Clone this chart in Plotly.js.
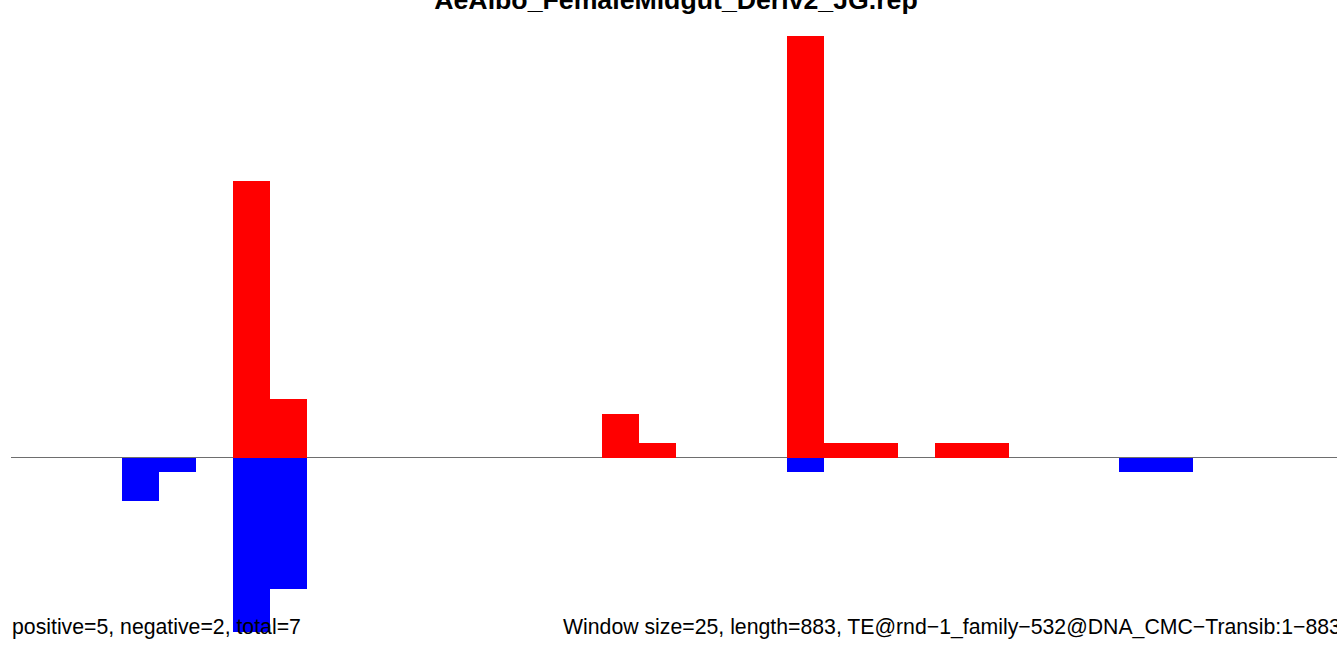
<!DOCTYPE html>
<html>
<head>
<meta charset="utf-8">
<script src="https://cdn.plot.ly/plotly-3.0.1.min.js"></script>
<style>
  html, body { margin: 0; padding: 0; background: #ffffff; }
  #chart { width: 1337px; height: 654px; }
</style>
</head>
<body>
<div id="chart"></div>
<script>
// ---- data ----
const windowSize = 25;
const seqLength = 883;
const windowIndex = [0,1,2,3,4,5,6,7,8,9,10,11,12,13,14,15,16,17,18,19,20,21,22,23,24,25,26,27,28,29,30,31,32,33,34,35];
const positiveCounts = [0,0,0,0,0,0,19,4,0,0,0,0,0,0,0,0,3,1,0,0,0,29,1,1,0,1,1,0,0,0,0,0,0,0,0,0];
const negativeCounts = [0,0,0,-3,-1,0,-12,-9,0,0,0,0,0,0,0,0,0,0,0,0,0,-1,0,0,0,0,0,0,0,0,-1,-1,0,0,0,0];
const titleText = "AeAlbo_FemaleMidgut_Deriv2_JG.rep";
const leftNote = "positive=5, negative=2, total=7";
const rightNote = "Window size=25, length=883, TE@rnd\u22121_family\u2212532@DNA_CMC\u2212Transib:1\u2212883";

const xCenters = windowIndex.map(i => i * windowSize + windowSize / 2);

const traces = [
  {
    type: 'bar', x: xCenters, y: positiveCounts, width: windowSize,
    marker: { color: '#FF0000', line: { width: 0 } }, hoverinfo: 'skip', showlegend: false
  },
  {
    type: 'bar', x: xCenters, y: negativeCounts, width: windowSize,
    marker: { color: '#0000FF', line: { width: 0 } }, hoverinfo: 'skip', showlegend: false
  }
];

const noteFont = { family: 'Liberation Sans, Arial, sans-serif', size: 21.25, color: '#000000' };

const layout = {
  width: 1337, height: 654,
  margin: { l: 11, r: 0, t: 0, b: 0, pad: 0 },
  paper_bgcolor: '#ffffff', plot_bgcolor: '#ffffff',
  barmode: 'overlay', bargap: 0,
  showlegend: false,
  font: { family: 'Liberation Sans, Arial, sans-serif', color: '#000000' },
  title: {
    text: titleText,
    font: { family: 'Liberation Sans, Arial, sans-serif', size: 26.7, weight: 'bold', color: '#000000' },
    x: 0.5 + 2 / 1326, xref: 'paper', xanchor: 'center',
    y: 1 + 1 / 654, yref: 'container', yanchor: 'middle'
  },
  xaxis: {
    range: [0, 897.2], visible: false, showgrid: false, zeroline: false, fixedrange: true
  },
  yaxis: {
    range: [-13.5, 31.44], showgrid: false, showticklabels: false, ticks: '',
    showline: false, zeroline: true, zerolinecolor: '#6e6e6e', zerolinewidth: 1, fixedrange: true
  },
  annotations: [
    {
      text: leftNote, xref: 'paper', yref: 'paper', x: 0, y: 0.042, xshift: -1,
      xanchor: 'left', yanchor: 'middle', showarrow: false, font: noteFont
    },
    {
      text: rightNote, xref: 'paper', yref: 'paper', x: (563 - 11) / 1326, y: 0.042, xshift: -2,
      xanchor: 'left', yanchor: 'middle', showarrow: false, font: noteFont
    }
  ]
};

Plotly.newPlot('chart', traces, layout, { staticPlot: true, displayModeBar: false });
</script>
</body>
</html>
